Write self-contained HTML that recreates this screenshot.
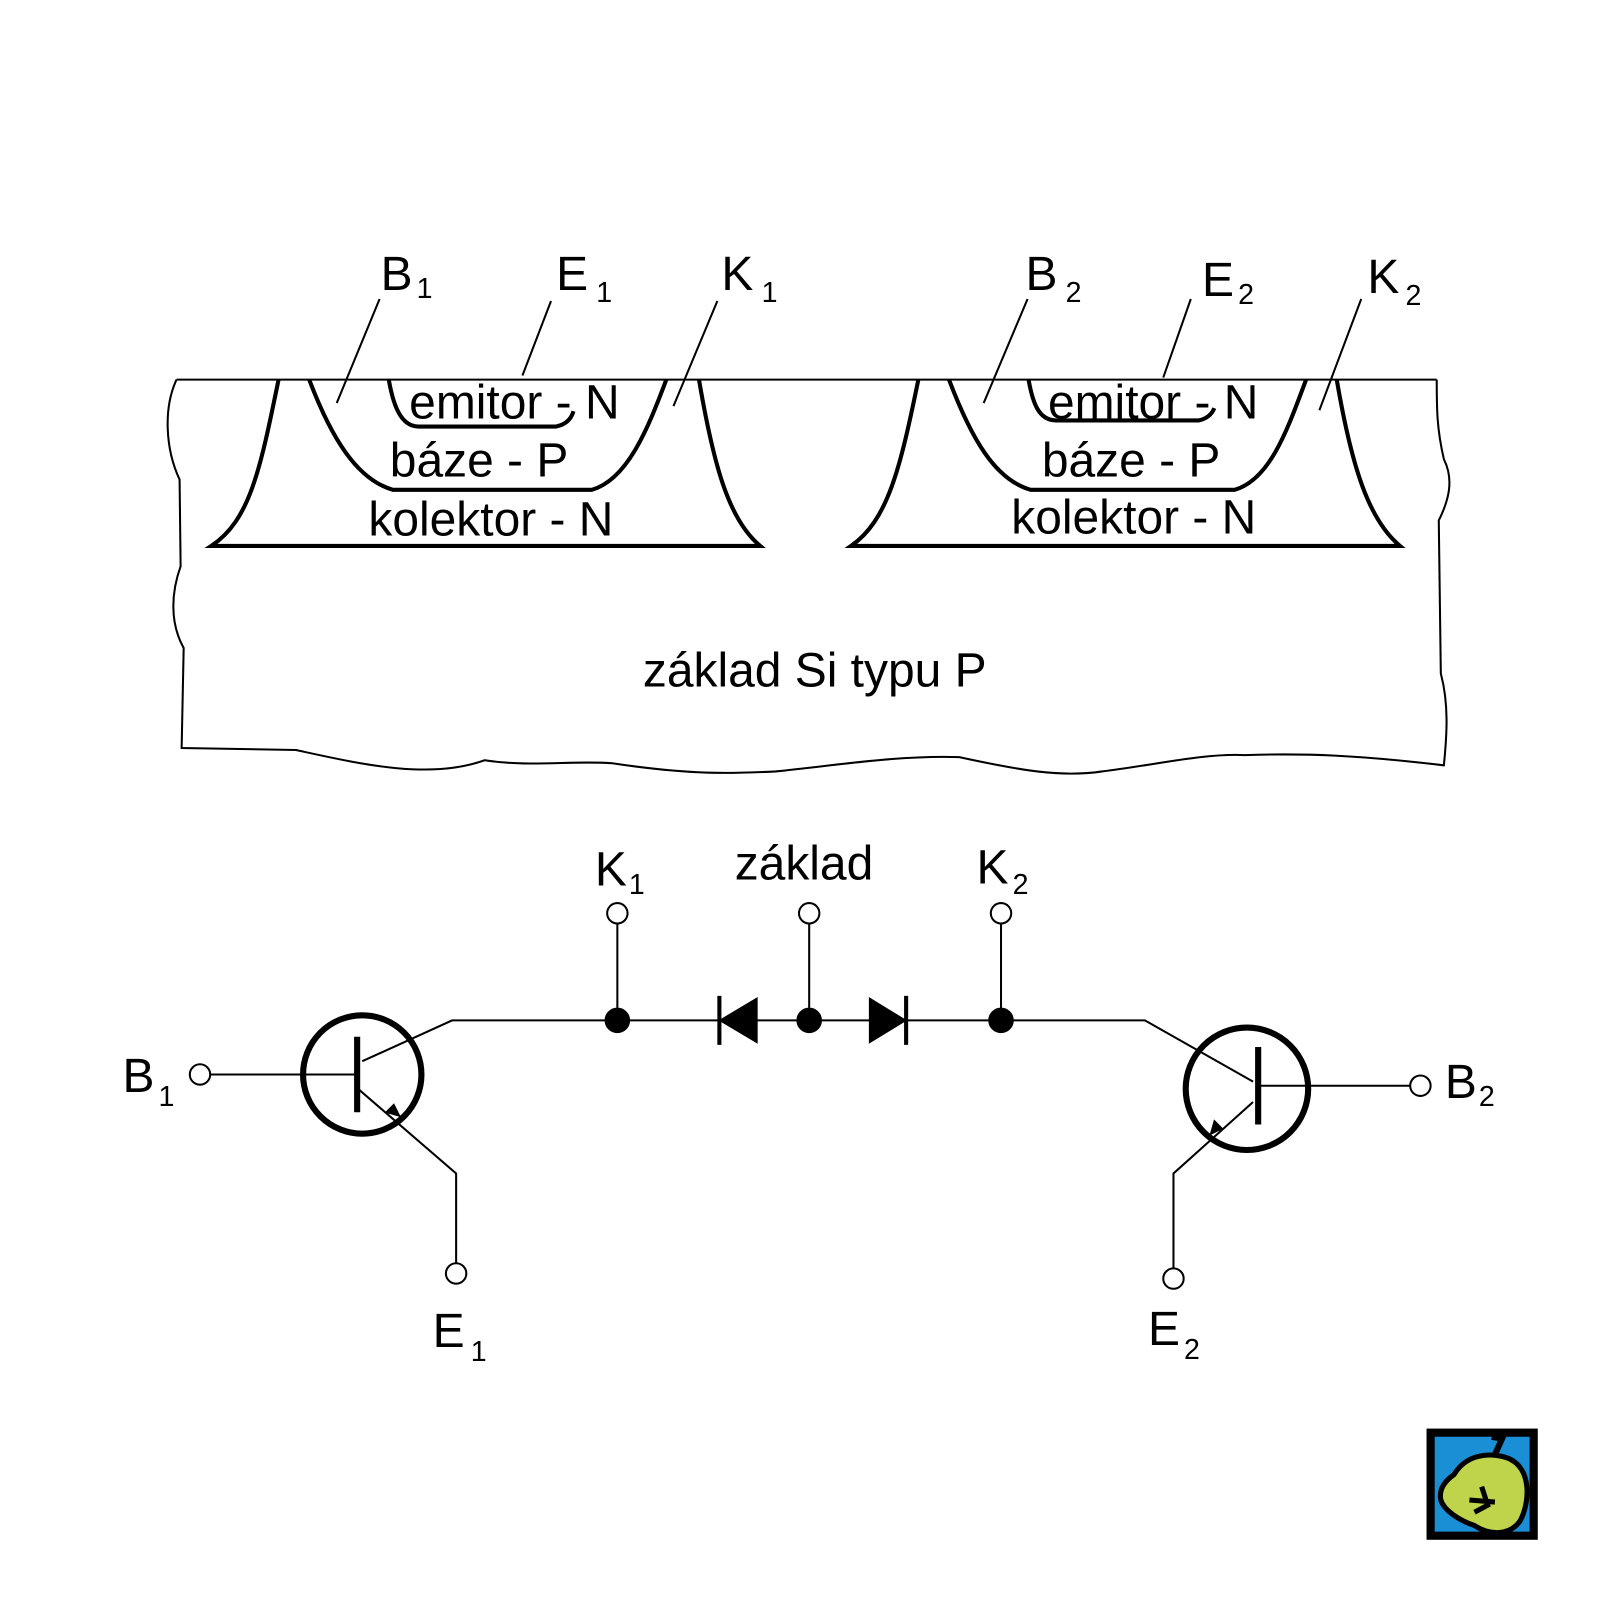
<!DOCTYPE html>
<html><head><meta charset="utf-8"><style>html,body{margin:0;padding:0;background:#fff}svg{display:block}text{font-family:"Liberation Sans",Arial,sans-serif;fill:#000}</style></head>
<body>
<svg width="1600" height="1600" viewBox="0 0 1568 1568" xmlns="http://www.w3.org/2000/svg">
<g fill="none" stroke="#000" stroke-width="2">
<path d="M173,372 L1408,372"/>
<path d="M173,372 C160,400 162,440 176,470 L177,555 C168,580 166,610 180,635 L178,733 L290,735 C350,748 420,765 475,745 C520,752 560,745 600,748 C680,760 720,758 760,756 C820,750 880,740 940,742 C1000,755 1040,762 1080,756 C1130,750 1180,738 1220,740 C1280,738 1330,740 1415,750 C1418,720 1420,690 1412,660 L1410,510 C1420,490 1425,470 1415,450 C1408,420 1408,400 1408,372"/>
<path d="M512,368 L540,295 M330,395 L372,293 M660,398 L703,295 M964,395 L1007,293 M1140,370 L1167,293 M1293,402 L1334,293"/>
</g>
<g fill="none" stroke="#000" stroke-width="4">
<path d="M273,372 C255,460 245,510 207,535 L745,535 C715,510 700,460 685,372"/>
<path d="M303,372 C325,430 350,470 385,480 L580,480 C615,470 635,420 653,372"/>
<path d="M381,372 C385,395 392,418 410,418 L545,418 C555,416 560,410 562,403"/>
<path d="M900,372 C882,460 870,510 834,535 L1372,535 C1342,510 1325,460 1310,372"/>
<path d="M930,372 C952,430 975,470 1010,480 L1210,480 C1245,470 1262,420 1280,372"/>
<path d="M1008,372 C1012,395 1018,412 1035,412 L1175,412 C1184,410 1188,405 1190,400"/>
</g>
<g font-size="47">
<text x="373" y="284">B<tspan font-size="28" dx="4" dy="8">1</tspan></text>
<text x="545" y="284">E<tspan font-size="28" dx="8" dy="12">1</tspan></text>
<text x="707" y="284">K<tspan font-size="28" dx="8" dy="12">1</tspan></text>
<text x="1005" y="284">B<tspan font-size="28" dx="8" dy="12">2</tspan></text>
<text x="1178" y="290">E<tspan font-size="28" dx="4" dy="8">2</tspan></text>
<text x="1340" y="287">K<tspan font-size="28" dx="6" dy="12">2</tspan></text>
<text x="401" y="410">emitor - N</text>
<text x="382" y="467">báze - P</text>
<text x="361" y="525">kolektor - N</text>
<text x="1027" y="410">emitor - N</text>
<text x="1021" y="467">báze - P</text>
<text x="991" y="523">kolektor - N</text>
<text x="630" y="673">základ Si typu P</text>
<text x="583" y="868">K<tspan font-size="28" dx="2" dy="8">1</tspan></text>
<text x="720" y="862">základ</text>
<text x="957" y="866">K<tspan font-size="28" dx="4" dy="10">2</tspan></text>
<text x="120" y="1070">B<tspan font-size="28" dx="4" dy="14">1</tspan></text>
<text x="1416" y="1076">B<tspan font-size="28" dx="2" dy="8">2</tspan></text>
<text x="424" y="1320">E<tspan font-size="28" dx="6" dy="14">1</tspan></text>
<text x="1125" y="1318">E<tspan font-size="28" dx="4" dy="14">2</tspan></text>
</g>
<g fill="none" stroke="#000" stroke-width="2">
<path d="M206,1053 L350,1053 M355,1040 L443,1000 L1122,1000 L1228,1060 M352,1068 L447,1150 L447,1238 M1233,1064 L1382,1064 M1228,1080 L1150,1150 L1150,1243 M605,1000 L605,905 M793,1000 L793,905 M981,1000 L981,905"/>
<circle cx="196" cy="1053" r="10"/><circle cx="447" cy="1248" r="10"/><circle cx="1392" cy="1064" r="10"/><circle cx="1150" cy="1253" r="10"/>
<circle cx="605" cy="895" r="10"/><circle cx="793" cy="895" r="10"/><circle cx="981" cy="895" r="10"/>
</g>
<g fill="none" stroke="#000" stroke-width="6">
<circle cx="355" cy="1053" r="58"/><circle cx="1222" cy="1067" r="60"/>
<path d="M350,1016 L350,1090 M1233,1026 L1233,1102"/>
</g>
<g fill="#000" stroke="#000">
<path d="M392,1094 L378,1090 L386,1082 Z"/>
<path d="M1186,1112 L1190,1098 L1198,1106 Z"/>
<circle cx="605" cy="1000" r="12"/><circle cx="793" cy="1000" r="12"/><circle cx="981" cy="1000" r="12"/>
<path d="M705,1000 L742,978 L742,1022 Z"/><path d="M705,976 L705,1024" stroke-width="4"/>
<path d="M888,1000 L852,978 L852,1022 Z"/><path d="M888,976 L888,1024" stroke-width="4"/>
</g>
<rect x="1398" y="1400" width="109" height="109" fill="#000"/>
<rect x="1406" y="1408" width="93" height="93" fill="#1a8fd6"/>
<path d="M1462,1408 L1472,1410 L1462,1432" stroke="#000" stroke-width="6" fill="none"/>
<path d="M1425,1445 C1440,1420 1470,1425 1480,1430 C1500,1440 1500,1470 1490,1490 C1480,1505 1460,1505 1445,1495 C1430,1490 1415,1480 1412,1470 C1410,1460 1415,1452 1425,1445 Z" fill="#bfd44a" stroke="#000" stroke-width="5"/>
<path d="M1452,1457 L1458,1475 L1445,1482 M1440,1470 L1465,1472" stroke="#000" stroke-width="5" fill="none"/>
</svg>
</body></html>
